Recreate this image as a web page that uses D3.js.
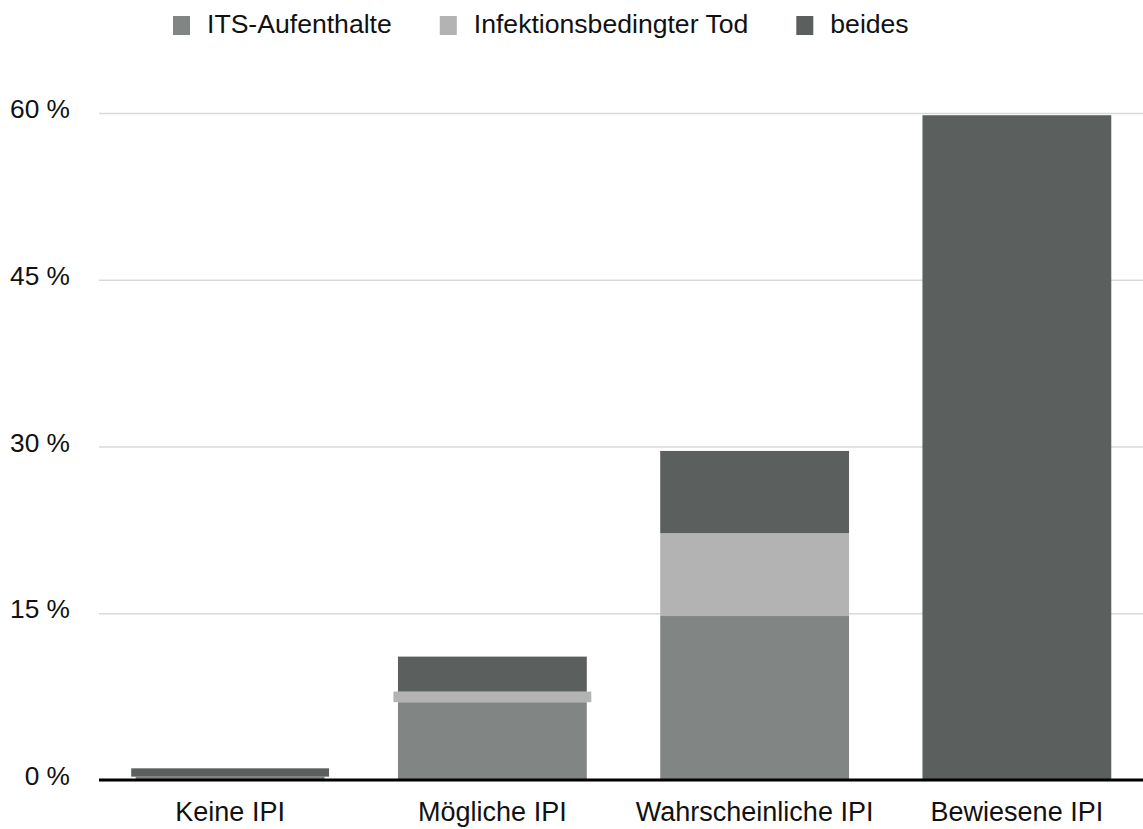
<!DOCTYPE html>
<html>
<head>
<meta charset="utf-8">
<script src="https://cdn.jsdelivr.net/npm/d3@7"></script>
<style>
  body { margin: 0; background: #fff; }
  text { font-family: "Liberation Sans", Arial, sans-serif; fill: #111; }
  .grid line { stroke: #d9d9d9; stroke-width: 1.5; }
  .grid path { display: none; }
</style>
</head>
<body>
<div id="chart"></div>
<script>

// categories and series (percent of patients)
var categories = ["Keine IPI", "Mögliche IPI", "Wahrscheinliche IPI", "Bewiesene IPI"];
var seriesNames = ["ITS-Aufenthalte", "Infektionsbedingter Tod", "beides"];
var itsValues   = [0.3, 7.0, 14.75, 0];
var todValues   = [0, 0.95, 7.45, 0];
var beidesValues = [0.75, 3.15, 7.4, 59.8];
var yTicks = [0, 15, 30, 45, 60];

var colors = ["#818684", "#b3b3b3", "#5b5f5d"];

// set the dimensions and margins of the graph
var svgWidth = 1143, svgHeight = 829;
var margin = {top: 113, right: 0, bottom: 49, left: 99},
    width = svgWidth - margin.left - margin.right,
    height = svgHeight - margin.top - margin.bottom;

// build rows for d3.stack
var rows = categories.map(function(c, i) {
  return {cat: c, "ITS-Aufenthalte": itsValues[i], "Infektionsbedingter Tod": todValues[i], "beides": beidesValues[i]};
});

var stacked = d3.stack().keys(seriesNames)(rows);

// set the ranges
var x = d3.scaleBand()
    .domain(categories)
    .range([0, 1049])
    .paddingInner(0.28)
    .paddingOuter(0.14);

var y = d3.scaleLinear()
    .domain([0, 60])
    .range([height, 0]);

var svg = d3.select("#chart").append("svg")
    .attr("width", svgWidth)
    .attr("height", svgHeight);

var g = svg.append("g")
    .attr("transform", "translate(" + margin.left + "," + margin.top + ")");

// gridlines
g.append("g")
    .attr("class", "grid")
    .call(d3.axisLeft(y)
        .tickValues(yTicks)
        .tickSize(-width)
        .tickFormat(""));

// y labels
g.selectAll(".ylabel")
    .data(yTicks)
  .enter().append("text")
    .attr("class", "ylabel")
    .attr("x", -29)
    .attr("y", function(d) { return y(d) + 5; })
    .attr("text-anchor", "end")
    .style("font-size", "26.3px")
    .text(function(d) { return d + " %"; });

// bars
var layer = g.selectAll(".layer")
    .data(stacked)
  .enter().append("g")
    .attr("class", "layer")
    .attr("fill", function(d, i) { return colors[i]; });

layer.selectAll("rect")
    .data(function(d) { return d; })
  .enter().append("rect")
    .attr("x", function(d) {
      var h = y(d[0]) - y(d[1]);
      // thin segments stick out a little on both sides, like the original
      return x(d.data.cat) - (h > 5 && h < 15 ? 4.5 : 0);
    })
    .attr("width", function(d) {
      var h = y(d[0]) - y(d[1]);
      return x.bandwidth() + (h > 5 && h < 15 ? 9 : 0);
    })
    .attr("y", function(d) { return y(d[1]); })
    .attr("height", function(d) { return y(d[0]) - y(d[1]); });

// x axis line
g.append("line")
    .attr("x1", 0)
    .attr("x2", width)
    .attr("y1", y(0))
    .attr("y2", y(0))
    .style("stroke", "#000")
    .style("stroke-width", 3);

// x labels
g.selectAll(".xlabel")
    .data(categories)
  .enter().append("text")
    .attr("class", "xlabel")
    .attr("x", function(d) { return x(d) + x.bandwidth() / 2; })
    .attr("y", height + 41)
    .attr("text-anchor", "middle")
    .style("font-size", "27px")
    .text(function(d) { return d; });

// legend
var legend = svg.append("g").attr("class", "legend");
var lx = 173;
seriesNames.forEach(function(name, i) {
  legend.append("rect")
      .attr("x", lx)
      .attr("y", 16)
      .attr("width", 17)
      .attr("height", 19)
      .attr("fill", colors[i]);
  var t = legend.append("text")
      .attr("x", lx + 34)
      .attr("y", 33)
      .style("font-size", "26.6px")
      .text(name);
  lx = lx + 34 + t.node().getComputedTextLength() + 48;
});

</script>
</body>
</html>
